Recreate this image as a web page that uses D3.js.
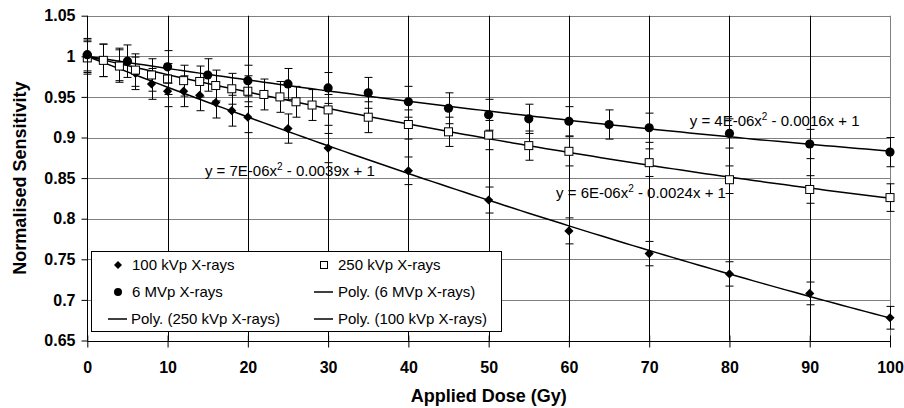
<!DOCTYPE html>
<html><head><meta charset="utf-8">
<script src="https://cdn.jsdelivr.net/npm/d3@7"></script>
<style>
body{margin:0;background:#fff}
svg{display:block}
text{font-family:"Liberation Sans",Arial,Helvetica,sans-serif;fill:#000}
</style>
</head><body>
<svg id="chart" width="904" height="408"></svg>
<script>
// ---------- data ----------
const dose100 = [0,2,4,6,8,10,12,14,16,18,20,25,30,40,50,60,70,80,90,100];
const sens100 = [1.000,0.995,0.990,0.979,0.966,0.957,0.957,0.952,0.943,0.933,0.925,0.911,0.887,0.859,0.823,0.785,0.757,0.732,0.708,0.678];
const err100  = [0.020,0.020,0.020,0.020,0.019,0.019,0.019,0.019,0.019,0.019,0.019,0.018,0.018,0.017,0.016,0.016,0.015,0.015,0.014,0.014];

const dose250 = [0,2,4,6,8,10,12,14,16,18,20,22,24,26,28,30,35,40,45,50,55,60,70,80,90,100];
const sens250 = [0.998,0.995,0.988,0.983,0.977,0.972,0.970,0.969,0.964,0.960,0.957,0.953,0.950,0.944,0.940,0.934,0.925,0.916,0.907,0.903,0.890,0.883,0.869,0.848,0.836,0.826];
const err250  = [0.020,0.020,0.020,0.020,0.020,0.019,0.019,0.019,0.019,0.019,0.019,0.019,0.019,0.019,0.019,0.019,0.019,0.018,0.018,0.018,0.018,0.018,0.017,0.017,0.017,0.017];

const dose6MV = [0,5,10,15,20,25,30,35,40,45,50,55,60,65,70,80,90,100];
const sens6MV = [1.002,0.994,0.987,0.977,0.970,0.966,0.961,0.955,0.944,0.936,0.928,0.923,0.920,0.916,0.912,0.905,0.892,0.882];
const err6MV  = [0.020,0.020,0.020,0.020,0.019,0.019,0.019,0.019,0.019,0.019,0.019,0.018,0.018,0.018,0.018,0.018,0.018,0.018];

const xTickValues = [0,10,20,30,40,50,60,70,80,90,100];
const yTickValues = [0.65,0.7,0.75,0.8,0.85,0.9,0.95,1,1.05];
const yTickLabels = ["0.65","0.7","0.75","0.8","0.85","0.9","0.95","1","1.05"];

const seriesNames = ["100 kVp X-rays","250 kVp X-rays","6 MVp X-rays"];
const trendNames  = ["Poly. (6 MVp X-rays)","Poly. (250 kVp X-rays)","Poly. (100 kVp X-rays)"];
const eq100 = ["y = 7E-06x","2"," - 0.0039x + 1"];
const eq250 = ["y = 6E-06x","2"," - 0.0024x + 1"];
const eq6MV = ["y = 4E-06x","2"," - 0.0016x + 1"];

const xTitle = "Applied Dose (Gy)";
const yTitle = "Normalised Sensitivity";

// ---------- layout ----------
const L = 87.3, R = 890, T = 15.7, B = 340.5;
const svg = d3.select("#chart");
svg.append("rect").attr("width",904).attr("height",408).attr("fill","#fff");

const x = d3.scaleLinear().domain([0,100]).range([L,R]);
const y = d3.scaleLinear().domain([0.65,1.05]).range([B,T]);

// horizontal gridlines (grey)
svg.append("g").selectAll("line").data(yTickValues.slice(1)).join("line")
  .attr("x1",L).attr("x2",R)
  .attr("y1",d=>Math.round(y(d))+0.5).attr("y2",d=>Math.round(y(d))+0.5)
  .attr("stroke","#808080").attr("stroke-width",1);
// right border
svg.append("line").attr("x1",Math.round(R)+0.5).attr("x2",Math.round(R)+0.5)
  .attr("y1",T).attr("y2",B).attr("stroke","#808080");
// vertical gridlines (black)
svg.append("g").selectAll("line").data(xTickValues.slice(1,-1)).join("line")
  .attr("x1",d=>Math.round(x(d))+0.5).attr("x2",d=>Math.round(x(d))+0.5)
  .attr("y1",T).attr("y2",B).attr("stroke","#000").attr("stroke-width",1);

// ---------- trendlines (least squares, intercept fixed at 1) ----------
function fitQuad(xs, ys){
  let s2=0,s3=0,s4=0,r1=0,r2=0;
  xs.forEach((xv,i)=>{const r=ys[i]-1;s2+=xv*xv;s3+=xv**3;s4+=xv**4;r1+=xv*r;r2+=xv*xv*r;});
  const det = s2*s4 - s3*s3;
  const b = (r1*s4 - s3*r2)/det;
  const a = (s2*r2 - s3*r1)/det;
  return v => 1 + b*v + a*v*v;
}
const line = d3.line().x(d=>x(d[0])).y(d=>y(d[1]));
const samp = d3.range(0,100.01,1);
[[dose100,sens100],[dose250,sens250],[dose6MV,sens6MV]].forEach(([xs,ys])=>{
  const f = fitQuad(xs,ys);
  svg.append("path").attr("d",line(samp.map(v=>[v,f(v)])))
    .attr("fill","none").attr("stroke","#000").attr("stroke-width",1.5);
});

// ---------- error bars and markers ----------
function drawSeries(xs, ys, es, kind){
  const g = svg.append("g");
  const pts = xs.map((d,i)=>({x:d,y:ys[i],e:es[i]}));
  const eb = g.append("g").attr("stroke","#000").attr("stroke-width",1);
  pts.forEach(p=>{
    const cx = Math.round(x(p.x))+0.5;
    const yt = y(p.y+p.e), yb = y(p.y-p.e);
    eb.append("line").attr("x1",cx).attr("x2",cx).attr("y1",yt).attr("y2",yb);
    eb.append("line").attr("x1",cx-4).attr("x2",cx+4).attr("y1",yt).attr("y2",yt);
    eb.append("line").attr("x1",cx-4).attr("x2",cx+4).attr("y1",yb).attr("y2",yb);
  });
  pts.forEach(p=>drawMarker(g, x(p.x), y(p.y), kind));
}
function drawMarker(g, cx, cy, kind){
  if(kind==="diamond"){
    const s=4.6;
    g.append("path").attr("d",`M${cx},${cy-s}L${cx+s},${cy}L${cx},${cy+s}L${cx-s},${cy}Z`).attr("fill","#000");
  } else if(kind==="square"){
    g.append("rect").attr("x",cx-4).attr("y",cy-4).attr("width",8).attr("height",8)
      .attr("fill","#fff").attr("stroke","#000").attr("stroke-width",1);
  } else {
    g.append("circle").attr("cx",cx).attr("cy",cy).attr("r",4.6).attr("fill","#000");
  }
}
drawSeries(dose100,sens100,err100,"diamond");
drawSeries(dose250,sens250,err250,"square");
drawSeries(dose6MV,sens6MV,err6MV,"circle");

// ---------- equations ----------
function eqText(parts, px, py){
  const t = svg.append("text").attr("x",x(px)).attr("y",y(py)).attr("font-size",15);
  t.append("tspan").text(parts[0]);
  t.append("tspan").attr("font-size",10).attr("dy",-6).text(parts[1]);
  t.append("tspan").attr("dy",6).text(parts[2]);
}
eqText(eq100, 14.65, 0.8528);
eqText(eq250, 58.4, 0.8250);
eqText(eq6MV, 75.05, 0.9140);

// ---------- axes ----------
const xAxis = d3.axisBottom(x).tickValues(xTickValues).tickSize(6).tickFormat(d3.format("d"));
const gx = svg.append("g").attr("transform",`translate(0,${Math.round(B)+0.5})`).call(xAxis);
gx.select(".domain").attr("stroke","#000").attr("d",`M${L},0H${R}`);
gx.selectAll(".tick line").attr("y1",-6).attr("y2",6).attr("stroke","#000");
gx.selectAll(".tick text").attr("y",20).attr("dy","0.71em")
  .attr("font-size",16).attr("font-weight","bold").attr("font-family",null);

const yAxis = d3.axisLeft(y).tickValues(yTickValues).tickSize(6).tickPadding(6)
  .tickFormat((d,i)=>yTickLabels[i]);
const gy = svg.append("g").attr("transform",`translate(${Math.round(L)+0.5},0)`).call(yAxis);
gy.select(".domain").attr("stroke","#000").attr("d",`M0,${T}V${B}`);
gy.selectAll(".tick line").attr("stroke","#000");
gy.selectAll(".tick text").attr("font-size",16).attr("font-weight","bold").attr("font-family",null);
svg.selectAll(".tick").each(function(){});

// titles
svg.append("text").attr("x",(L+R)/2).attr("y",402).attr("text-anchor","middle")
  .attr("font-size",18).attr("font-weight","bold").text(xTitle);
svg.append("text").attr("transform",`translate(25.5,${(T+B)/2}) rotate(-90)`)
  .attr("text-anchor","middle").attr("font-size",18).attr("font-weight","bold").text(yTitle);

// ---------- legend ----------
const lg = svg.append("g");
lg.append("rect").attr("x",91.5).attr("y",251.5).attr("width",410).attr("height",80)
  .attr("fill","#fff").attr("stroke","#000").attr("stroke-width",1);
const rows = [265, 292, 319];
const legendItems = [
  {col:0,row:0,kind:"diamond",label:seriesNames[0]},
  {col:1,row:0,kind:"square",label:seriesNames[1]},
  {col:0,row:1,kind:"circle",label:seriesNames[2]},
  {col:1,row:1,kind:"line",label:trendNames[0]},
  {col:0,row:2,kind:"line",label:trendNames[1]},
  {col:1,row:2,kind:"line",label:trendNames[2]}
];
const colMarker = [118, 324], colText = [132, 338];
legendItems.forEach(it=>{
  const cy = rows[it.row];
  if(it.kind==="line"){
    const cx = colMarker[it.col];
    lg.append("line").attr("x1",cx-10).attr("x2",cx+9).attr("y1",cy).attr("y2",cy)
      .attr("stroke","#000").attr("stroke-width",1.5);
  } else {
    const sg = lg.append("g");
    if(it.kind==="diamond"){
      const s=4, cx=colMarker[it.col];
      sg.append("path").attr("d",`M${cx},${cy-s}L${cx+s},${cy}L${cx},${cy+s}L${cx-s},${cy}Z`).attr("fill","#000");
    } else if(it.kind==="square"){
      sg.append("rect").attr("x",colMarker[it.col]-3.5).attr("y",cy-3.5).attr("width",7).attr("height",7)
        .attr("fill","#fff").attr("stroke","#000");
    } else {
      sg.append("circle").attr("cx",colMarker[it.col]).attr("cy",cy).attr("r",4).attr("fill","#000");
    }
  }
  lg.append("text").attr("x",colText[it.col]-(it.kind==="line"&&it.col===0?1:0)).attr("y",cy)
    .attr("dy","0.35em").attr("font-size",15).text(it.label);
});
</script>
</body></html>
